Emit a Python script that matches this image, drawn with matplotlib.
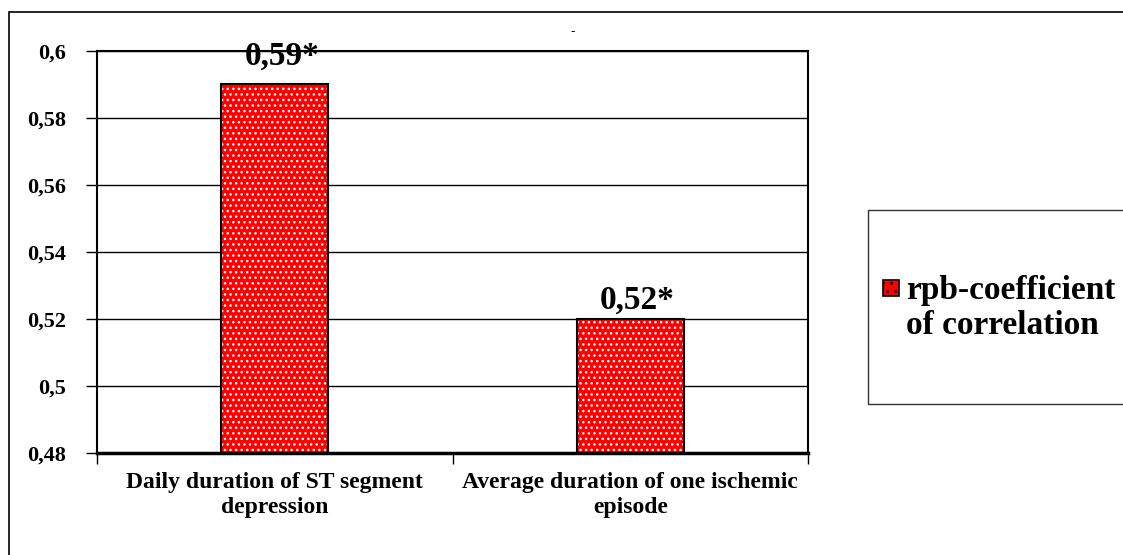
import matplotlib
matplotlib.use("Agg")
import matplotlib.pyplot as plt
from matplotlib.patches import Rectangle
from matplotlib.transforms import offset_copy
import numpy as np

categories = ["Daily duration of ST segment\ndepression",
              "Average duration of one ischemic\nepisode"]
values = [0.59, 0.52]
value_labels = ["0,59*", "0,52*"]
yticks = [0.48, 0.50, 0.52, 0.54, 0.56, 0.58, 0.60]
ytick_labels = ["0,48", "0,5", "0,52", "0,54", "0,56", "0,58", "0,6"]
series_name = "rpb-coefficient\nof correlation"

RED = "#ff0000"
SERIF = ["Liberation Serif", "DejaVu Serif"]
W, H = 1123, 555


def fx(px):
    return px / W


def fy(py):
    return 1 - py / H


fig = plt.figure(figsize=(W / 100, H / 100), dpi=100, facecolor="white")

# outer chart border (runs off the right and bottom edges)
fig.patches.append(Rectangle((fx(9), -0.05), fx(1130), fy(12) + 0.05,
                             transform=fig.transFigure, fill=False,
                             edgecolor="black", linewidth=1.2))

ax = fig.add_axes([fx(97), fy(453), fx(711), 402 / H])
ax.set_xlim(0, 2)
ax.set_ylim(0.48, 0.60)

x = np.arange(len(values)) + 0.5
width = 0.30
heights = [v - 0.48 for v in values]
ax.set_axisbelow(True)
ax.yaxis.grid(True, color="black", linewidth=1.0)
ax.bar(x, heights, width, bottom=0.48, color=RED, edgecolor="white",
       hatch="...", linewidth=0, zorder=2)
ax.bar(x, heights, width, bottom=0.48, fill=False, edgecolor="black",
       linewidth=1.5, zorder=3)

# value labels above the bars (gap in points)
label_gap = [14, 7.5]
for xi, v, lbl, gap in zip(x, values, value_labels, label_gap):
    tr = offset_copy(ax.transData, fig=fig, x=0, y=gap, units="points")
    ax.text(xi + 0.02, v, lbl, ha="center", va="baseline", transform=tr,
            fontsize=24, fontweight="bold", family=SERIF, zorder=4)

ax.set_yticks(yticks)
ax.set_yticklabels(ytick_labels, fontsize=16, fontweight="bold", family=SERIF)
ax.set_xticks([0, 1, 2])
ax.set_xticklabels([])
ax.set_xticks(x, minor=True)
ax.set_xticklabels(categories, minor=True, fontsize=17, fontweight="bold",
                   family=SERIF, linespacing=1.2)
ax.tick_params(axis="x", which="minor", length=0, pad=14)
ax.tick_params(axis="x", which="major", length=8, width=1.0, direction="out")
ax.tick_params(axis="y", length=8, width=1.0, direction="out", pad=14)

for side in ["left", "right", "top"]:
    ax.spines[side].set_linewidth(1.5)
ax.spines["bottom"].set_linewidth(2.5)

# small mark above the plot area
fig.text(fx(573), fy(32), "-", fontsize=9, ha="center", va="center")

# legend box, also running off the right edge
fig.patches.append(Rectangle((fx(868), fy(404)), fx(300), 194 / H,
                             transform=fig.transFigure, fill=False,
                             edgecolor="#333333", linewidth=1.0))
fig.patches.append(Rectangle((fx(883), fy(296)), fx(16), 16 / H,
                             transform=fig.transFigure, facecolor=RED,
                             edgecolor="black", hatch="..", linewidth=1.2))
fig.text(fx(906), fy(308), series_name, ha="left", va="center", fontsize=24,
         fontweight="bold", family=SERIF, linespacing=1.2)

fig.savefig("out.png", dpi=100, facecolor="white")
